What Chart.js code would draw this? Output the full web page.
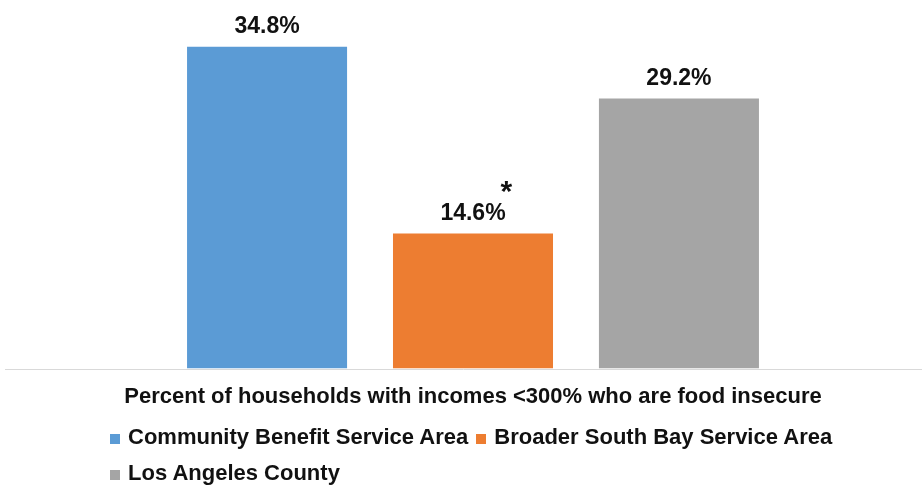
<!DOCTYPE html>
<html>
<head>
<meta charset="utf-8">
<script src="https://cdn.jsdelivr.net/npm/chart.js@4"></script>
<style>
  body { margin: 0; background: #fff; font-family: "Liberation Sans", Arial, sans-serif; }
  #wrap { position: relative; width: 922px; height: 485px; overflow: hidden; }
  #legend { position: absolute; left: 110px; top: 419px; width: 760px;
            font-weight: bold; font-size: 22px; line-height: 36px; color: #111; }
  .item { display: inline-block; margin-right: 8px; white-space: nowrap; }
  .box { display: inline-block; width: 10px; height: 10px; margin-right: 8px; }
</style>
</head>
<body>
<div id="wrap">
  <canvas id="chart" width="922" height="485"></canvas>
  <div id="legend"></div>
</div>
<script>
var categories = ['Percent of households with incomes <300% who are food insecure'];
var seriesNames = ['Community Benefit Service Area', 'Broader South Bay Service Area', 'Los Angeles County'];
var seriesValues = [[34.8], [14.6], [29.2]];
var seriesNotes = ['', '*', ''];
var seriesColors = ['#5B9BD5', '#ED7D31', '#A5A5A5'];

// percent labels over each bar, plus the footnote mark
var valueLabels = {
  id: 'valueLabels',
  afterDatasetsDraw: function(chart) {
    var ctx = chart.ctx;
    ctx.save();
    ctx.fillStyle = '#111';
    ctx.textBaseline = 'alphabetic';
    chart.data.datasets.forEach(function(ds, i) {
      var bar = chart.getDatasetMeta(i).data[0];
      var txt = ds.data[0].toFixed(1) + '%';
      ctx.font = 'bold 23px "Liberation Sans", Arial, sans-serif';
      ctx.textAlign = 'center';
      ctx.fillText(txt, bar.x, bar.y - 14);
      if (seriesNotes[i]) {
        var w = ctx.measureText(txt).width;
        ctx.font = 'bold 30px "Liberation Sans", Arial, sans-serif';
        ctx.textAlign = 'left';
        ctx.fillText(seriesNotes[i], bar.x + w / 2 - 5, bar.y - 33);
      }
    });
    ctx.restore();
  }
};

// baseline along the bottom of the plot
var baseLine = {
  id: 'baseLine',
  beforeDatasetsDraw: function(chart) {
    var ctx = chart.ctx;
    var y = Math.round(chart.scales.y.getPixelForValue(0)) + 0.5;
    ctx.save();
    ctx.strokeStyle = '#d9d9d9';
    ctx.lineWidth = 1;
    ctx.beginPath();
    ctx.moveTo(5, y);
    ctx.lineTo(chart.chartArea.right, y);
    ctx.stroke();
    ctx.restore();
  }
};

var datasets = [];
for (var i = 0; i < seriesNames.length; i++) {
  datasets.push({
    label: seriesNames[i],
    data: seriesValues[i],
    backgroundColor: seriesColors[i],
    barPercentage: 0.777,
    categoryPercentage: 0.688
  });
}

var chart = new Chart(document.getElementById('chart').getContext('2d'), {
  type: 'bar',
  data: { labels: categories, datasets: datasets },
  options: {
    responsive: false,
    animation: false,
    layout: { padding: { top: 8, left: 24, right: 0, bottom: 68 } },
    plugins: { legend: { display: false }, tooltip: { enabled: false } },
    scales: {
      y: { display: false, min: 0, max: 39 },
      x: {
        grid: { display: false },
        border: { display: false },
        ticks: {
          padding: 7,
          color: '#111',
          font: { family: '"Liberation Sans", Arial, sans-serif', size: 22, weight: 'bold' }
        }
      }
    }
  },
  plugins: [valueLabels, baseLine]
});

// legend rows under the chart
var legend = document.getElementById('legend');
chart.data.datasets.forEach(function(ds) {
  var item = document.createElement('span');
  item.className = 'item';
  var box = document.createElement('span');
  box.className = 'box';
  box.style.background = ds.backgroundColor;
  item.appendChild(box);
  item.appendChild(document.createTextNode(ds.label));
  legend.appendChild(item);
});
</script>
</body>
</html>
